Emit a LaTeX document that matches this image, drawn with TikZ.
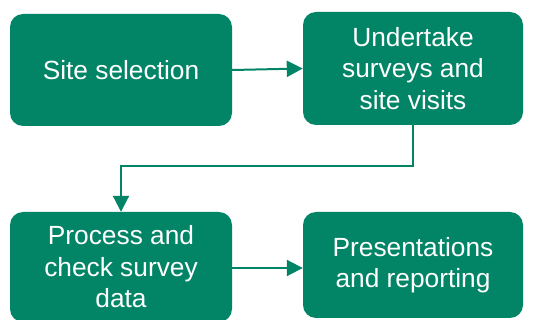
\documentclass[tikz,border=0pt]{standalone}
\usepackage{fontspec}
\setmainfont{Liberation Sans}
\usetikzlibrary{arrows.meta}
\definecolor{boxgreen}{RGB}{2,133,102}
\tikzset{
  stage/.style={fill=boxgreen, draw=none, rounded corners=13pt, text=white,
    align=center, font=\fontsize{26.3}{31.5}\selectfont, inner sep=0pt},
  flow/.style={draw=boxgreen, line width=2pt, -{Triangle[length=16pt,width=16pt]}}
}
\begin{document}
\begin{tikzpicture}[x=1pt,y=-1pt]
\useasboundingbox (0,0) rectangle (533,320);
\node[stage, minimum width=222pt, minimum height=112pt] (sel) at (121,70) {Site selection};
\node[stage, minimum width=220pt, minimum height=113pt] (und) at (413,68.5) {Undertake\\surveys and\\site visits};
\node[stage, minimum width=222pt, minimum height=110pt] (pro) at (121,267) {Process and\\check survey\\data};
\node[stage, minimum width=220pt, minimum height=106pt] (pre) at (413,265) {Presentations\\and reporting};
\draw[flow] (sel.east) -- (und.west);
\draw[flow] (und.south) -- ++(0,41) -| (pro.north);
\draw[flow] (pro.east |- 0,268) -- (pre.west |- 0,268);
\end{tikzpicture}
\end{document}
